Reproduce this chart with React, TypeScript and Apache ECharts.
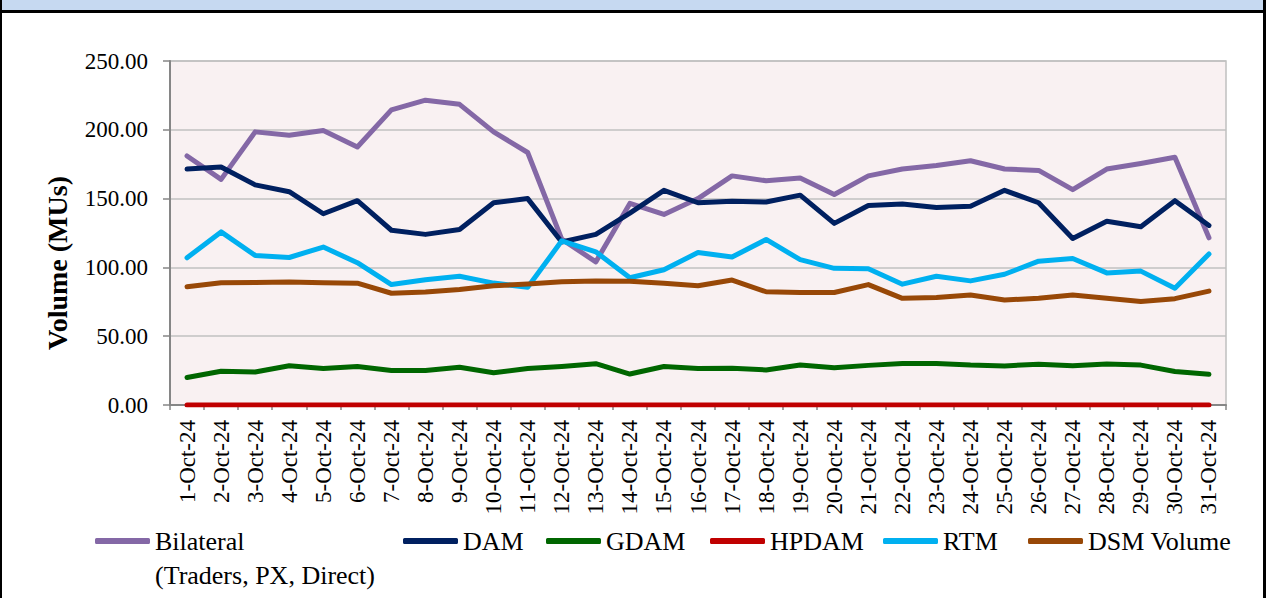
import React, { useEffect, useRef } from "react";
import * as echarts from "echarts";

const categories = [
  "1-Oct-24", "2-Oct-24", "3-Oct-24", "4-Oct-24", "5-Oct-24", "6-Oct-24", "7-Oct-24", "8-Oct-24",
  "9-Oct-24", "10-Oct-24", "11-Oct-24", "12-Oct-24", "13-Oct-24", "14-Oct-24", "15-Oct-24", "16-Oct-24",
  "17-Oct-24", "18-Oct-24", "19-Oct-24", "20-Oct-24", "21-Oct-24", "22-Oct-24", "23-Oct-24", "24-Oct-24",
  "25-Oct-24", "26-Oct-24", "27-Oct-24", "28-Oct-24", "29-Oct-24", "30-Oct-24", "31-Oct-24",
];

const bilateral = [181, 164, 198.5, 196, 199.5, 187.5, 214.5, 221.5, 218.5, 198.5, 183.5, 120.5, 104, 146.5, 138.5, 150,
  166.5, 163, 165, 153, 166.5, 171.5, 174, 177.5, 171.5, 170.5, 156.5, 171.5, 175.5, 180, 121.5];
const dam = [171.5, 173, 160, 155, 139, 148.5, 127, 124, 127.5, 147, 150, 118.5, 124, 139.5, 156, 147,
  148, 147.5, 152.5, 132, 145, 146, 143.5, 144.5, 156, 147, 121, 133.5, 129.5, 148.5, 130.5];
const gdam = [20, 24.5, 24, 28.5, 26.5, 28, 25, 25, 27.5, 23.5, 26.5, 28, 30, 22.5, 28, 26.5,
  26.7, 25.5, 29, 27, 28.8, 30.2, 30.2, 29, 28.4, 29.6, 28.6, 29.8, 29, 24.3, 22.3];
const hpdam = [0, 0, 0, 0, 0, 0, 0, 0, 0, 0, 0, 0, 0, 0, 0, 0,
  0, 0, 0, 0, 0, 0, 0, 0, 0, 0, 0, 0, 0, 0, 0];
const rtm = [107, 125.8, 108.7, 107.2, 114.8, 103.4, 87.5, 91, 93.6, 88.6, 85.5, 119.3, 111.3, 92.5, 98.3, 110.8,
  107.5, 120.3, 105.6, 99.3, 99, 87.8, 93.6, 90.2, 95, 104.5, 106.5, 96, 97.3, 84.8, 109.8];
const dsm = [86, 88.8, 89.1, 89.3, 88.8, 88.5, 81.2, 82.2, 84, 86.6, 87.9, 89.5, 90.2, 90, 88.5, 86.7,
  90.8, 82.3, 81.8, 81.8, 87.5, 77.5, 78.2, 79.9, 76.3, 77.5, 79.9, 77.5, 75.2, 77.3, 82.8];

const yTicks = [0, 50, 100, 150, 200, 250];

const SERIF = "'Liberation Serif', 'Times New Roman', serif";

const seriesDefs = [
  { name: "Bilateral (Traders, PX, Direct)", data: bilateral, color: "#8468a6", legendLeft: 95 },
  { name: "DAM", data: dam, color: "#002060", legendLeft: 403 },
  { name: "GDAM", data: gdam, color: "#006600", legendLeft: 546 },
  { name: "HPDAM", data: hpdam, color: "#c00000", legendLeft: 710 },
  { name: "RTM", data: rtm, color: "#00b0f0", legendLeft: 883 },
  { name: "DSM Volume", data: dsm, color: "#984807", legendLeft: 1028 },
];

export default function App() {
  const ref = useRef<HTMLDivElement>(null);

  useEffect(() => {
    if (!ref.current) return;
    const chart = echarts.init(ref.current, null, { renderer: "svg" });
    const legendRowY = 541;
    const lh = 34;
    const legends = seriesDefs.map((s, i) => {
      const isFirst = i === 0;
      return {
        data: [s.name],
        left: s.legendLeft,
        top: isFirst ? legendRowY - (lh * 3) / 2 : legendRowY - lh / 2,
        padding: 0,
        itemWidth: 55,
        itemHeight: 6,
        icon: "roundRect",
        selectedMode: false,
        formatter: isFirst ? () => "\nBilateral\n(Traders, PX, Direct)" : undefined,
        textStyle: {
          fontFamily: SERIF,
          fontSize: 26,
          color: "#000",
          lineHeight: lh,
        },
      };
    });
    chart.setOption({
      animation: false,
      backgroundColor: "#ffffff",
      grid: {
        left: 170,
        right: 43,
        top: 61,
        bottom: 193,
        show: true,
        backgroundColor: "#f9f1f2",
        borderColor: "#c0c0c0",
        borderWidth: 1.5,
      },
      legend: legends,
      xAxis: {
        type: "category",
        data: categories,
        boundaryGap: true,
        axisLine: { show: true, lineStyle: { color: "#868686", width: 2 } },
        axisTick: { show: true, interval: 0, length: 5, lineStyle: { color: "#868686", width: 1.5 } },
        axisLabel: {
          interval: 0,
          rotate: 90,
          margin: 15,
          fontFamily: SERIF,
          fontSize: 23,
          color: "#000",
        },
      },
      yAxis: {
        type: "value",
        min: yTicks[0],
        max: yTicks[yTicks.length - 1],
        interval: 50,
        axisLine: { show: true, lineStyle: { color: "#868686", width: 2 } },
        axisTick: { show: true, length: 7, lineStyle: { color: "#868686", width: 1.5 } },
        splitLine: { show: true, lineStyle: { color: "#c0c0c0", width: 1.5 } },
        axisLabel: {
          margin: 22,
          fontFamily: SERIF,
          fontSize: 23,
          color: "#000",
          formatter: (v: number) => v.toFixed(2),
        },
      },
      graphic: [
        {
          type: "text",
          x: 57,
          y: 263,
          rotation: Math.PI / 2,
          style: {
            text: "Volume (MUs)",
            fontFamily: SERIF,
            fontSize: 28,
            fontWeight: "bold",
            fill: "#000",
            align: "center",
            verticalAlign: "middle",
          },
        },
      ],
      series: seriesDefs.map((s) => ({
        name: s.name,
        type: "line",
        data: s.data,
        symbol: "none",
        showSymbol: false,
        lineStyle: { color: s.color, width: 5, cap: "round", join: "round" },
        itemStyle: { color: s.color },
      })),
    });
    return () => chart.dispose();
  }, []);

  return (
    <div style={{ position: "fixed", left: 0, top: 0, width: 1269, height: 598, background: "#fff", overflow: "hidden" }}>
      <div ref={ref} style={{ position: "absolute", left: 0, top: 0, width: 1269, height: 598 }} />
      <div style={{ position: "absolute", left: 0, top: 0, width: 1266, height: 10, background: "#c6d9f1" }} />
      <div style={{ position: "absolute", left: 0, top: 10, width: 1266, height: 3, background: "#000" }} />
      <div style={{ position: "absolute", left: 0, top: 0, width: 2, height: 598, background: "#000" }} />
      <div style={{ position: "absolute", left: 1263, top: 0, width: 3, height: 598, background: "#000" }} />
    </div>
  );
}
